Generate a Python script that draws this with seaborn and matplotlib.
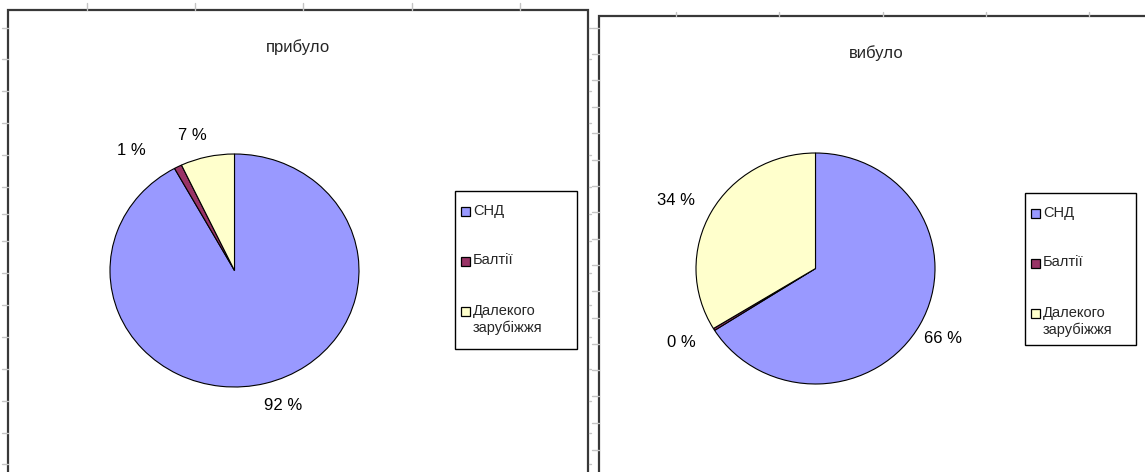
import matplotlib
matplotlib.use("Agg")
import matplotlib.pyplot as plt
from matplotlib.patches import Rectangle
from matplotlib.lines import Line2D
import seaborn as sns

# Migration by region, percent of total
categories = ["СНД", "Балтії", "Далекого\nзарубіжжя"]
arrived = [92, 1, 7]          # прибуло
departed = [66, 0.3, 33.7]    # вибуло
titles = ["прибуло", "вибуло"]
colors = ["#9999FF", "#993366", "#FFFFCC"]

sns.set_style("white")
plt.rcParams["font.family"] = ["Liberation Sans", "DejaVu Sans"]

W, H = 1145, 472
fig = plt.figure(figsize=(W / 100, H / 100), dpi=100)
fig.patch.set_facecolor("white")


def fx(px):
    return px / W


def fy(py):
    return 1 - py / H


def fig_line(xs, ys, **kw):
    fig.add_artist(Line2D([fx(x) for x in xs], [fy(y) for y in ys],
                          transform=fig.transFigure, **kw))


# worksheet grid marks behind the chart objects
grid_kw = dict(color="#c4c4c4", linewidth=1.0)
for x in [87, 195, 303, 412, 520]:
    fig_line([x, x], [3, 10], **grid_kw)
for x in [676, 779, 883, 986, 1089]:
    fig_line([x, x], [12, 16], **grid_kw)
left_rows = [28, 59, 91, 123, 155, 187, 214, 241, 273, 305, 337, 369, 401, 433, 464]
for y in left_rows:
    fig_line([2, 8], [y, y], **grid_kw)
    fig_line([589, 591], [y, y], **grid_kw)
right_rows = [28, 54, 80, 107, 133, 160, 186, 212, 239, 265, 291, 318, 344, 370, 396, 423, 450]
for y in right_rows:
    fig_line([592, 599], [y, y], **grid_kw)

panels = [
    dict(values=arrived, title=titles[0], frame=(8, 10, 588), center=(234.5, 270.5),
         radii=(124.5, 116.5), title_xy=(298, 47), legend=(455, 191, 577, 349),
         label_pos=[(0.39, -1.155), (-0.831, 1.026), (-0.341, 1.155)]),
    dict(values=departed, title=titles[1], frame=(599, 16, 1160), center=(815.5, 268.5),
         radii=(119.5, 115.5), title_xy=(876, 53), legend=(1025, 193, 1136, 345),
         label_pos=[(1.07, -0.61), (-1.126, -0.645), (-1.167, 0.593)]),
]

for p in panels:
    # chart object border
    l, t, r = p["frame"]
    fig.add_artist(Rectangle((fx(l), fy(H + 20)), fx(r) - fx(l), fy(t) - fy(H + 20),
                             transform=fig.transFigure, fill=False,
                             edgecolor="#383838", linewidth=1.6))

    cx, cy = p["center"]
    rx, ry = p["radii"]
    ax = fig.add_axes([fx(cx - rx), fy(cy + ry), 2 * rx / W, 2 * ry / H])
    vals = p["values"]
    ax.pie(vals, colors=colors, startangle=90, counterclock=False, radius=1,
           wedgeprops=dict(edgecolor="black", linewidth=0.8))
    ax.set_xlim(-1, 1)
    ax.set_ylim(-1, 1)
    ax.set_aspect("auto")
    ax.axis("off")

    total = sum(vals)
    for v, (lx, ly) in zip(vals, p["label_pos"]):
        ax.text(lx, ly, f"{v / total * 100:.0f} %", ha="center", va="center",
                fontsize=12, color="black", clip_on=False)

    tx, ty = p["title_xy"]
    fig.text(fx(tx), fy(ty), p["title"], ha="center", va="center", fontsize=12)

    # legend box with one entry per region
    ll, lt, lr, lb = p["legend"]
    fig.add_artist(Rectangle((fx(ll), fy(lb)), fx(lr) - fx(ll), fy(lt) - fy(lb),
                             transform=fig.transFigure, fill=True, facecolor="white",
                             edgecolor="black", linewidth=1.0))
    for i, (cat, col) in enumerate(zip(categories, colors)):
        yc = lt + 20 + i * 50
        fig.add_artist(Rectangle((fx(ll + 6), fy(yc + 4.5)), 9 / W, 9 / H,
                                 transform=fig.transFigure, facecolor=col,
                                 edgecolor="black", linewidth=0.9))
        fig.text(fx(ll + 18), fy(yc - 7.5), cat, ha="left", va="top",
                 fontsize=10.5, linespacing=1.3)

fig.savefig("out.png", dpi=100, facecolor="white")
